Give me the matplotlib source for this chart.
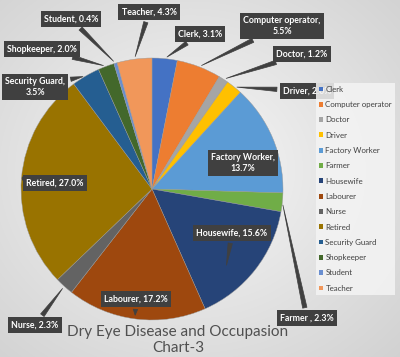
import numpy as np
import matplotlib
matplotlib.use("Agg")
import matplotlib.pyplot as plt
from matplotlib.patches import Patch

categories = ["Clerk", "Computer operator", "Doctor", "Driver", "Factory Worker", "Farmer",
              "Housewife", "Labourer", "Nurse", "Retired", "Security Guard", "Shopkeeper",
              "Student", "Teacher"]
values = [3.1, 5.5, 1.2, 2.0, 13.7, 2.3, 15.6, 17.2, 2.3, 27.0, 3.5, 2.0, 0.4, 4.3]
label_texts = ["Clerk, 3.1%", "Computer operator,\n5.5%", "Doctor, 1.2%", "Driver, 2.0%",
               "Factory Worker,\n13.7%", "Farmer , 2.3%", "Housewife, 15.6%", "Labourer, 17.2%",
               "Nurse, 2.3%", "Retired, 27.0%", "Security Guard,\n3.5%", "Shopkeeper, 2.0%",
               "Student, 0.4%", "Teacher, 4.3%"]
colors = ["#4472C4", "#ED7D31", "#A5A5A5", "#FFC000", "#5B9BD5", "#70AD47", "#264478",
          "#9E480E", "#636363", "#997300", "#255E91", "#43682B", "#698ED0", "#F1975A"]
title = "Dry Eye Disease and Occupasion\nChart-3"

W, H = 400, 357
fig = plt.figure(figsize=(W / 100, H / 100), dpi=100)
plt.rcParams['font.family'] = ['Lato', 'DejaVu Sans']

# background gradient
bg = fig.add_axes([0, 0, 1, 1])
yy, xx = np.mgrid[0:H, 0:W]
d = np.sqrt(((xx - 190) / 260.0) ** 2 + ((yy - 170) / 230.0) ** 2)
g = 0.97 - 0.13 * np.clip(d, 0, 1.3)
bg.imshow(np.dstack([g, g, g]), extent=[0, W, 0, H], aspect='auto', origin='upper')
bg.set_axis_off()

# pie axes
cx, cy, r = 152, 189, 131
ax = fig.add_axes([(cx - r) / W, (H - cy - r) / H, 2 * r / W, 2 * r / H])
wedges, _ = ax.pie(values, colors=colors, startangle=90, counterclock=False, radius=1,
                   wedgeprops=dict(linewidth=0.3, edgecolor='#999999'))
ax.set_xlim(-1, 1)
ax.set_ylim(-1, 1)
ax.set_aspect('equal')

# label box centers (image pixels) and pointer radius factor
label_pos = {
    "Clerk": (200, 34, 1.0),
    "Computer operator": (282, 26, 1.0),
    "Doctor": (302, 54, 1.0),
    "Driver": (307, 91, 1.0),
    "Factory Worker": (243, 163, None),
    "Farmer": (307, 318, 1.0),
    "Housewife": (232, 233, None),
    "Labourer": (136, 299, None),
    "Nurse": (35, 325, 1.0),
    "Retired": (55, 183, None),
    "Security Guard": (35, 87, 1.0),
    "Shopkeeper": (42, 49, 1.0),
    "Student": (71, 19, 1.0),
    "Teacher": (149, 12, 1.0),
}
inside_tail = {
    "Retired": (22, 178),
    "Housewife": (226, 268),
    "Labourer": (135, 318),
}

for w, cat, txt in zip(wedges, categories, label_texts):
    px, py, rf = label_pos[cat]
    bbox = dict(boxstyle='square,pad=0.35', fc='#404040', ec='none')
    common = dict(ha='center', va='center', fontsize=6.3, fontweight='bold', color='white',
                  bbox=bbox, linespacing=1.3)
    arrow = dict(arrowstyle='wedge,tail_width=0.5,shrink_factor=0.5',
                 fc='#404040', ec='#404040', lw=0.5)
    if rf is not None:
        ang = np.deg2rad((w.theta1 + w.theta2) / 2)
        xy = (rf * np.cos(ang), rf * np.sin(ang))
        ax.annotate(txt, xy=xy, xycoords='data', xytext=(px, H - py),
                    textcoords='figure pixels', arrowprops=arrow, **common)
    elif cat in inside_tail:
        tx, ty = inside_tail[cat]
        ax.annotate(txt, xy=(tx, H - ty), xycoords='figure pixels', xytext=(px, H - py),
                    textcoords='figure pixels', arrowprops=arrow, **common)
    else:
        ax.annotate(txt, xy=(px, H - py), xycoords='figure pixels', **common)

handles = [Patch(facecolor=c, edgecolor='none', label=n) for c, n in zip(colors, categories)]
leg = fig.legend(handles=handles, loc='upper left', bbox_to_anchor=(312 / W, 1 - 79 / H),
                 frameon=True, fontsize=5.7, handlelength=0.55, handleheight=0.55,
                 handletextpad=0.3, labelspacing=1.05, borderpad=0.35, labelcolor='#404040')
leg.get_frame().set_facecolor('#f4f4f4')
leg.get_frame().set_edgecolor('none')
leg.get_frame().set_alpha(0.85)
leg.get_frame().set_boxstyle('square,pad=0')

fig.text(178 / W, 1 - 340 / H, title, ha='center', va='center', fontsize=11,
         color='#505050', linespacing=1.1)

fig.savefig("out.png", dpi=100)
